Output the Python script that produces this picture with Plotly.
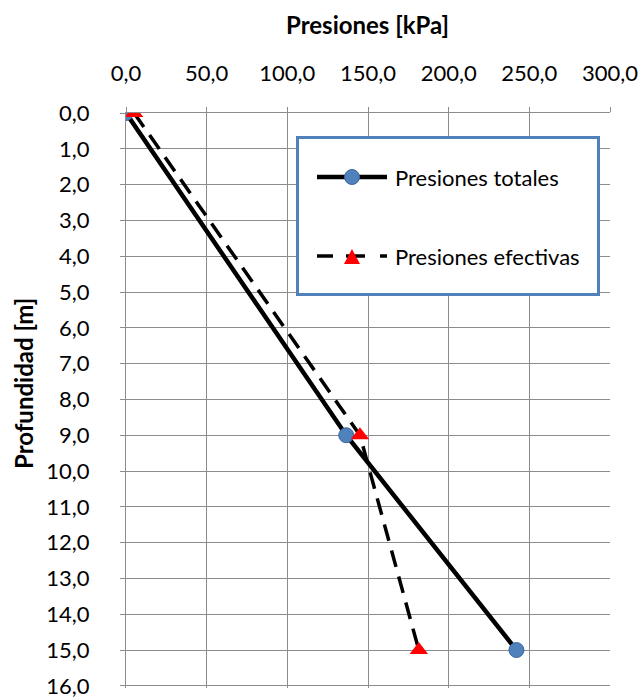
import plotly.graph_objects as go

depth_tot = [0.0, 9.0, 15.0]
p_tot = [0.0, 136.5, 242.0]
depth_ef = [0.0, 9.0, 15.0]
p_ef = [5.0, 145.0, 181.5]
legend_names = ["Presiones totales", "Presiones efectivas"]
x_ticks = [0, 50, 100, 150, 200, 250, 300]
y_ticks = list(range(0, 17))

FONT = "Lato"
W, H = 640, 698
L, R, T, B = 126, 30, 113, 10
PW, PH = W - L - R, H - T - B

def px(xp):
    return (xp - L) / PW

def py(yp):
    return (H - B - yp) / PH

fig = go.Figure()
fig.add_trace(go.Scatter(
    x=p_tot, y=depth_tot, mode="lines+markers", name=legend_names[0],
    line=dict(color="black", width=4.5),
    marker=dict(symbol="circle", size=15, color="#4F81BD", line=dict(color="#3A679C", width=1))))
fig.add_trace(go.Scatter(
    x=p_ef, y=depth_ef, mode="lines+markers", name=legend_names[1],
    line=dict(color="black", width=3.5, dash="17px,10px"),
    marker=dict(symbol="triangle-up", size=16, color="#FF0000", line=dict(width=0))))

shapes = []
# legend box
shapes.append(dict(type="rect", xref="paper", yref="paper",
                   x0=px(297.5), x1=px(598.5), y0=py(294.5), y1=py(137.5),
                   line=dict(color="#4F81BD", width=3), fillcolor="white", layer="above"))
# legend item 1
shapes.append(dict(type="line", xref="paper", yref="paper",
                   x0=px(317), x1=px(387), y0=py(177), y1=py(177),
                   line=dict(color="black", width=4.5), layer="above"))
shapes.append(dict(type="circle", xref="paper", yref="paper",
                   x0=px(344.5), x1=px(359.5), y0=py(184.5), y1=py(169.5),
                   line=dict(color="#3A679C", width=1), fillcolor="#4F81BD", layer="above"))
# legend item 2
for a, b in [(317, 333), (346, 365), (380, 387)]:
    shapes.append(dict(type="line", xref="paper", yref="paper",
                       x0=px(a), x1=px(b), y0=py(256), y1=py(256),
                       line=dict(color="black", width=3.5), layer="above"))
tx0, tx1, ty0, ty1 = px(344), px(360), py(264), py(249)
shapes.append(dict(type="path", xref="paper", yref="paper",
                   path=f"M {tx0} {ty0} L {tx1} {ty0} L {(tx0+tx1)/2} {ty1} Z",
                   line=dict(width=0), fillcolor="#FF0000", layer="above"))

annotations = [
    dict(text=legend_names[0], xref="paper", yref="paper", x=px(393), y=py(177),
         xanchor="left", yanchor="middle", showarrow=False, font=dict(size=22)),
    dict(text=legend_names[1], xref="paper", yref="paper", x=px(393), y=py(256),
         xanchor="left", yanchor="middle", showarrow=False, font=dict(size=22)),
    dict(text="<b>Presiones [kPa]</b>", xref="paper", yref="paper", x=px(367), y=py(25),
         xanchor="center", yanchor="middle", showarrow=False, font=dict(size=24)),
    dict(text="<b>Profundidad [m]</b>", xref="paper", yref="paper", x=px(23), y=py(384),
         xanchor="center", yanchor="middle", showarrow=False, textangle=-90, font=dict(size=24)),
]

fig.update_layout(
    width=W, height=H,
    margin=dict(l=L, r=R, t=T, b=B, autoexpand=False),
    paper_bgcolor="white", plot_bgcolor="white",
    separators=",.",
    font=dict(family=FONT, size=22, color="black"),
    showlegend=False,
    shapes=shapes,
    annotations=annotations,
    xaxis=dict(side="top", range=[0, 300], tickmode="array", tickvals=x_ticks, tickformat=".1f",
               showgrid=True, gridcolor="#8C8C8C", gridwidth=1.3,
               showline=True, linecolor="#8C8C8C", linewidth=1.3,
               ticks="outside", ticklen=5, tickcolor="#8C8C8C",
               zeroline=False, ticklabelstandoff=17, ticklabeloverflow="allow",
               automargin=False, tickfont=dict(size=22)),
    yaxis=dict(range=[16.06, 0], tickmode="array", tickvals=y_ticks, tickformat=".1f",
               showgrid=True, gridcolor="#8C8C8C", gridwidth=1.3,
               showline=True, linecolor="#8C8C8C", linewidth=1.3,
               ticks="outside", ticklen=5, tickcolor="#8C8C8C",
               zeroline=False, ticklabelstandoff=26, ticklabeloverflow="allow",
               automargin=False, tickfont=dict(size=22)),
)
fig.write_html("out.html")
